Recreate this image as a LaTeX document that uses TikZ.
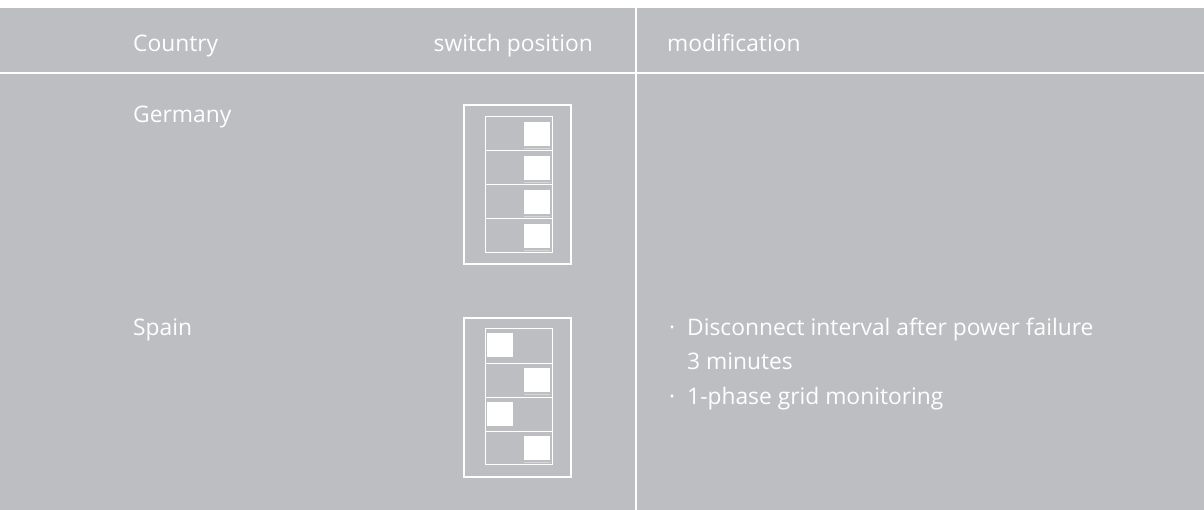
\documentclass[tikz,border=0pt]{standalone}
\usepackage{fontspec}
\setmainfont{Open Sans}
\definecolor{panelgray}{RGB}{189,190,193}
\definecolor{footgray}{RGB}{214,215,217}

\begin{document}
\begin{tikzpicture}[x=1pt,y=-1pt,
  cell/.style={text=white,font=\fontsize{22.8}{22.8}\selectfont,inner sep=0pt,anchor=base west},
  gridline/.style={white,line width=2pt},
  switchcase/.style={draw=white,line width=1.5pt},
  switchslot/.style={draw=white,line width=1pt},
  slider/.style={fill=white},
  sliderfoot/.style={footgray,line width=1.5pt}]
\useasboundingbox (0,0) rectangle (1204,510);
\fill[panelgray] (0,8) rectangle (1204,510);
\draw[gridline] (0,73) -- (1204,73);
\draw[gridline] (636,8) -- (636,510);

\node[cell] (country) at (133,52) {Country};
\node[cell,anchor=base east] (switchpos) at (593,52) {switch position};
\node[cell] (modif) at (667,52) {modification};

\node[cell] (germany) at (133,123) {Germany};
\node[cell] (spain) at (133,335) {Spain};

\node[cell] (dotA) at (669,335) {·};
\node[cell] (disconnect) at (687,335) {Disconnect interval after power failure};
\node[cell] (minutes) at (687,369) {3 minutes};
\node[cell] (dotB) at (669,404) {·};
\node[cell] (gridmon) at (687,404) {1-phase grid monitoring};

% Germany
\begin{scope}[shift={(464,105)}]
\draw[switchcase] (0,0) rectangle (107,159);
\draw[switchslot] (21,12) rectangle (88,148);
\draw[switchslot] (21,46) -- (88,46) (21,80) -- (88,80) (21,114) -- (88,114);
\fill[slider] (60,17) rectangle (86,41);
\fill[slider] (60,51) rectangle (86,75);
\fill[slider] (60,85) rectangle (86,109);
\fill[slider] (60,119) rectangle (86,143);
\draw[sliderfoot] (60,43.5) -- (86,43.5) (60,77.5) -- (86,77.5) (60,111.5) -- (86,111.5) (60,145.5) -- (86,145.5);
\end{scope}

% Spain
\begin{scope}[shift={(464,318)}]
\draw[switchcase] (0,0) rectangle (107,159);
\draw[switchslot] (21,11) rectangle (88,146);
\draw[switchslot] (21,45) -- (88,45) (21,79) -- (88,79) (21,113) -- (88,113);
\fill[slider] (23,15) rectangle (49,39);
\fill[slider] (60,50) rectangle (86,74);
\fill[slider] (23,84) rectangle (49,108);
\fill[slider] (60,118) rectangle (86,142);
\draw[sliderfoot] (60,76.5) -- (86,76.5) (60,144.5) -- (86,144.5);
\end{scope}
\end{tikzpicture}
\end{document}
